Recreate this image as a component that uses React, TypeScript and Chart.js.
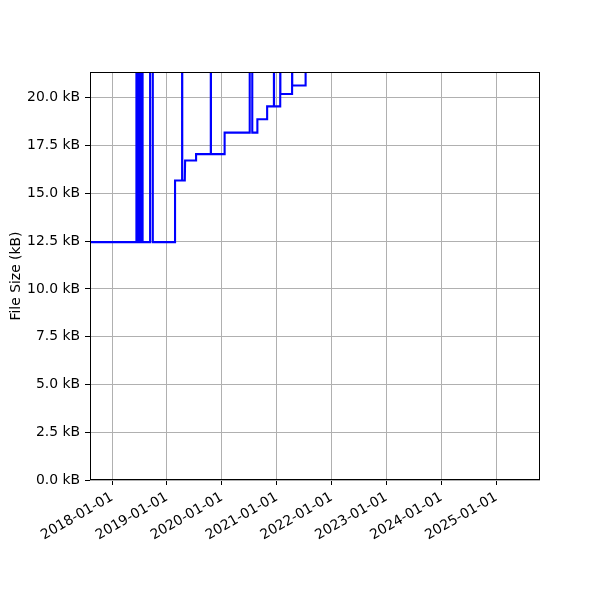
import { useEffect, useRef } from "react";
import { Chart, registerables } from "chart.js";

Chart.register(...registerables);

// Commit dates and file sizes (kB); values above the axis top are clipped spikes
const dates = [
  "2017-08-07",
  "2018-06-12", "2018-06-12", "2018-06-14", "2018-06-14",
  "2018-06-16", "2018-06-16", "2018-06-18", "2018-06-18",
  "2018-06-20", "2018-06-20", "2018-06-22", "2018-06-22",
  "2018-06-24", "2018-06-24", "2018-06-26", "2018-06-26",
  "2018-06-28", "2018-06-28", "2018-06-30", "2018-06-30",
  "2018-07-02", "2018-07-02", "2018-07-04", "2018-07-04",
  "2018-07-06", "2018-07-06", "2018-07-08", "2018-07-08",
  "2018-07-10", "2018-07-10", "2018-07-12", "2018-07-12",
  "2018-07-14", "2018-07-14", "2018-07-16", "2018-07-16",
  "2018-07-18", "2018-07-18", "2018-07-20", "2018-07-20",
  "2018-07-22", "2018-07-22", "2018-07-23", "2018-07-23",
  "2018-09-11", "2018-09-11", "2018-09-29", "2018-09-29",
  "2019-02-24", "2019-02-24",
  "2019-04-12", "2019-04-12", "2019-04-13", "2019-04-13",
  "2019-04-30", "2019-05-02",
  "2019-07-14", "2019-07-14",
  "2019-10-20", "2019-10-20", "2019-10-21", "2019-10-21",
  "2020-01-20", "2020-01-20",
  "2020-07-05", "2020-07-05", "2020-07-22", "2020-07-22",
  "2020-08-25", "2020-08-25",
  "2020-10-29", "2020-10-29",
  "2020-12-13", "2020-12-13", "2020-12-14", "2020-12-14",
  "2021-01-24", "2021-01-24", "2021-01-25", "2021-01-25",
  "2021-04-13", "2021-04-13", "2021-04-14", "2021-04-14",
  "2021-07-12", "2021-07-12",
];
const sizes = [
  12.45,
  12.45, 28, 28, 12.45,
  12.45, 28, 28, 12.45,
  12.45, 28, 28, 12.45,
  12.45, 28, 28, 12.45,
  12.45, 28, 28, 12.45,
  12.45, 28, 28, 12.45,
  12.45, 28, 28, 12.45,
  12.45, 28, 28, 12.45,
  12.45, 28, 28, 12.45,
  12.45, 28, 28, 12.45,
  12.45, 28, 28, 12.45,
  12.45, 28, 28, 12.45,
  12.45, 15.67,
  15.67, 28, 28, 15.67,
  15.67, 16.72,
  16.72, 17.05,
  17.05, 28, 28, 17.05,
  17.05, 18.18,
  18.18, 28, 28, 18.18,
  18.18, 18.88,
  18.88, 19.55,
  19.55, 28, 28, 19.55,
  19.55, 28, 28, 20.2,
  20.2, 28, 28, 20.64,
  20.64, 28,
];

const yTicks = [0, 2.5, 5, 7.5, 10, 12.5, 15, 17.5, 20];
const xTickYears = [2018, 2019, 2020, 2021, 2022, 2023, 2024, 2025];
const xMinDate = "2017-08-07";
const xMaxDate = "2025-10-19";
const yMax = 21.35;
const yTitle = "File Size (kB)";

const toMs = (s: string) => Date.parse(s + "T00:00:00Z");
const pad2 = (n: number) => (n < 10 ? "0" + n : "" + n);
const fmtDate = (ms: number) => {
  const d = new Date(ms);
  return d.getUTCFullYear() + "-" + pad2(d.getUTCMonth() + 1) + "-" + pad2(d.getUTCDate());
};

const framePlugin = {
  id: "frame",
  afterDatasetsDraw(chart: any) {
    const { ctx, chartArea } = chart;
    ctx.save();
    ctx.strokeStyle = "#000";
    ctx.lineWidth = 1;
    ctx.strokeRect(
      Math.round(chartArea.left) + 0.5,
      Math.round(chartArea.top) + 0.5,
      Math.round(chartArea.right - chartArea.left) - 1,
      Math.round(chartArea.bottom - chartArea.top) - 1
    );
    ctx.restore();
  },
};

export default function App() {
  const ref = useRef<HTMLCanvasElement | null>(null);
  useEffect(() => {
    if (!ref.current) return;
    const font = { family: "'DejaVu Sans', sans-serif", size: 13.9 };
    const data = dates.map((d, i) => ({ x: toMs(d), y: sizes[i] }));
    const chart = new Chart(ref.current, {
      type: "line",
      data: {
        datasets: [
          {
            data,
            borderColor: "#0000ff",
            borderWidth: 2.1,
            borderDash: [100000, 0],
            borderJoinStyle: "miter",
            borderCapStyle: "butt",
            pointRadius: 0,
            tension: 0,
            fill: false,
            clip: 0,
          } as any,
        ],
      },
      options: {
        animation: false,
        responsive: false,
        maintainAspectRatio: false,
        parsing: false as any,
        layout: { padding: { left: 0, top: 72, right: 60, bottom: 0 } },
        plugins: { legend: { display: false }, tooltip: { enabled: false } },
        scales: {
          x: {
            type: "linear",
            min: toMs(xMinDate),
            max: toMs(xMaxDate),
            afterBuildTicks: (s: any) => {
              s.ticks = xTickYears.map((y) => ({ value: Date.UTC(y, 0, 1) }));
            },
            afterFit: (s: any) => {
              s.height = 120;
              s.paddingLeft = 0;
              s.paddingRight = 0;
            },
            ticks: {
              autoSkip: false,
              minRotation: 30,
              maxRotation: 30,
              color: "#000",
              font,
              padding: 4,
              callback: (v: any) => fmtDate(Number(v)),
            },
            grid: { color: "#b0b0b0", tickColor: "#000", tickLength: 5, lineWidth: 1 },
            border: { display: false },
          },
          y: {
            type: "linear",
            min: 0,
            max: yMax,
            afterBuildTicks: (s: any) => {
              s.ticks = yTicks.map((v) => ({ value: v }));
            },
            afterFit: (s: any) => {
              s.width = 90;
            },
            ticks: {
              color: "#000",
              font,
              padding: 5,
              callback: (v: any) => Number(v).toFixed(1) + " kB",
            },
            grid: { color: "#b0b0b0", tickColor: "#000", tickLength: 5, lineWidth: 1 },
            border: { display: false },
            title: {
              display: true,
              text: yTitle,
              color: "#000",
              font,
              padding: { top: 8, bottom: 0 },
            },
          },
        },
      },
      plugins: [framePlugin],
    });
    return () => chart.destroy();
  }, []);
  return (
    <div style={{ position: "absolute", left: 0, top: 0, width: 600, height: 600, background: "#fff" }}>
      <canvas ref={ref} width={600} height={600} />
    </div>
  );
}
